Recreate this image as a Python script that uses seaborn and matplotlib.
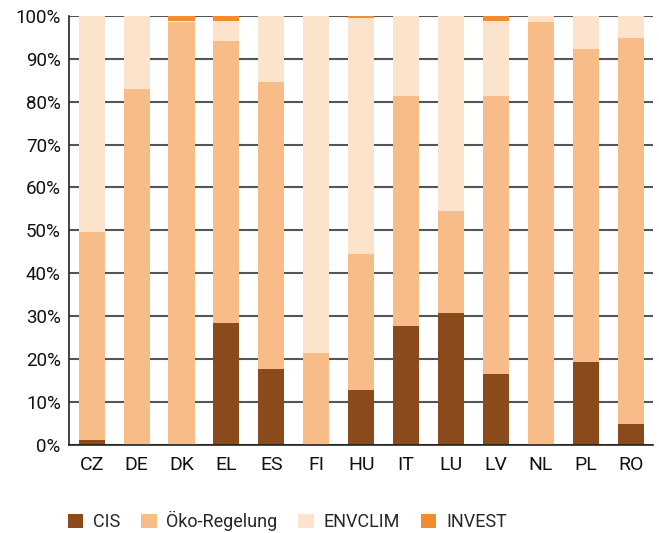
import matplotlib
matplotlib.use("Agg")
import matplotlib.pyplot as plt
from matplotlib.patches import Patch
from matplotlib.ticker import PercentFormatter
import seaborn as sns
import pandas as pd
import numpy as np

COUNTRIES = ['CZ', 'DE', 'DK', 'EL', 'ES', 'FI', 'HU', 'IT', 'LU', 'LV', 'NL', 'PL', 'RO']
CIS = [1.2, 0, 0, 28.5, 17.7, 0, 12.8, 27.7, 30.7, 16.5, 0, 19.3, 4.9]
OEKO = [48.5, 82.9, 98.6, 65.6, 66.9, 21.5, 31.7, 53.6, 23.8, 64.8, 98.5, 72.9, 89.9]
ENVCLIM = [50.3, 17.1, 0.2, 4.7, 15.4, 78.5, 55.0, 18.7, 45.5, 17.5, 1.5, 7.8, 5.2]
INVEST = [0, 0, 1.2, 1.2, 0, 0, 0.5, 0, 0, 1.2, 0, 0, 0]

SERIES = ['CIS', 'Öko-Regelung', 'ENVCLIM', 'INVEST']
COLORS = ['#8a4a1c', '#f7bc87', '#fce4cc', '#f28c30']


def main() -> None:
    sns.set_style('white')
    plt.rcParams['font.family'] = ['Roboto', 'DejaVu Sans']

    df = pd.DataFrame({'country': COUNTRIES, 'CIS': CIS, 'Öko-Regelung': OEKO,
                       'ENVCLIM': ENVCLIM, 'INVEST': INVEST})
    cum = df[SERIES].cumsum(axis=1)

    f, ax = plt.subplots(figsize=(6.59, 5.33), dpi=100)
    plt.subplots_adjust(left=.105, right=.991, bottom=.165, top=.9705)

    # stacked bars: draw cumulative totals from top layer down
    for name, color in reversed(list(zip(SERIES, COLORS))):
        sns.barplot(x=df['country'], y=cum[name], color=color, width=.58,
                    saturation=1, ax=ax, zorder=2, linewidth=0)

    ax.set_ylim(0, 100)
    ax.set_xlim(-.5, 12.5)
    ax.set_yticks(np.arange(0, 101, 10))
    ax.yaxis.set_major_formatter(PercentFormatter(decimals=0))
    ax.grid(axis='y', color='#555555', linewidth=1.5, zorder=0)
    ax.set_axisbelow(True)
    for s in ['top', 'right']:
        ax.spines[s].set_visible(False)
    ax.spines['left'].set_color('#222222')
    ax.spines['bottom'].set_color('#222222')
    ax.spines['left'].set_linewidth(1.2)
    ax.spines['bottom'].set_linewidth(1.2)
    ax.tick_params(axis='y', length=0, labelsize=13.5, colors='#111111', pad=6)
    ax.tick_params(axis='x', length=0, labelsize=14, colors='#111111', pad=8)
    ax.set_xlabel('')
    ax.set_ylabel('')

    handles = [Patch(facecolor=c, edgecolor='none') for c in COLORS]
    f.legend(handles, SERIES, loc='center left', bbox_to_anchor=(.103, .022),
             ncol=4, frameon=False, fontsize=13, handlelength=.85,
             handleheight=.85, handletextpad=.55, columnspacing=1.15,
             borderaxespad=0, borderpad=0)

    plt.savefig('out.png', dpi=100)


if __name__ == '__main__':
    main()
